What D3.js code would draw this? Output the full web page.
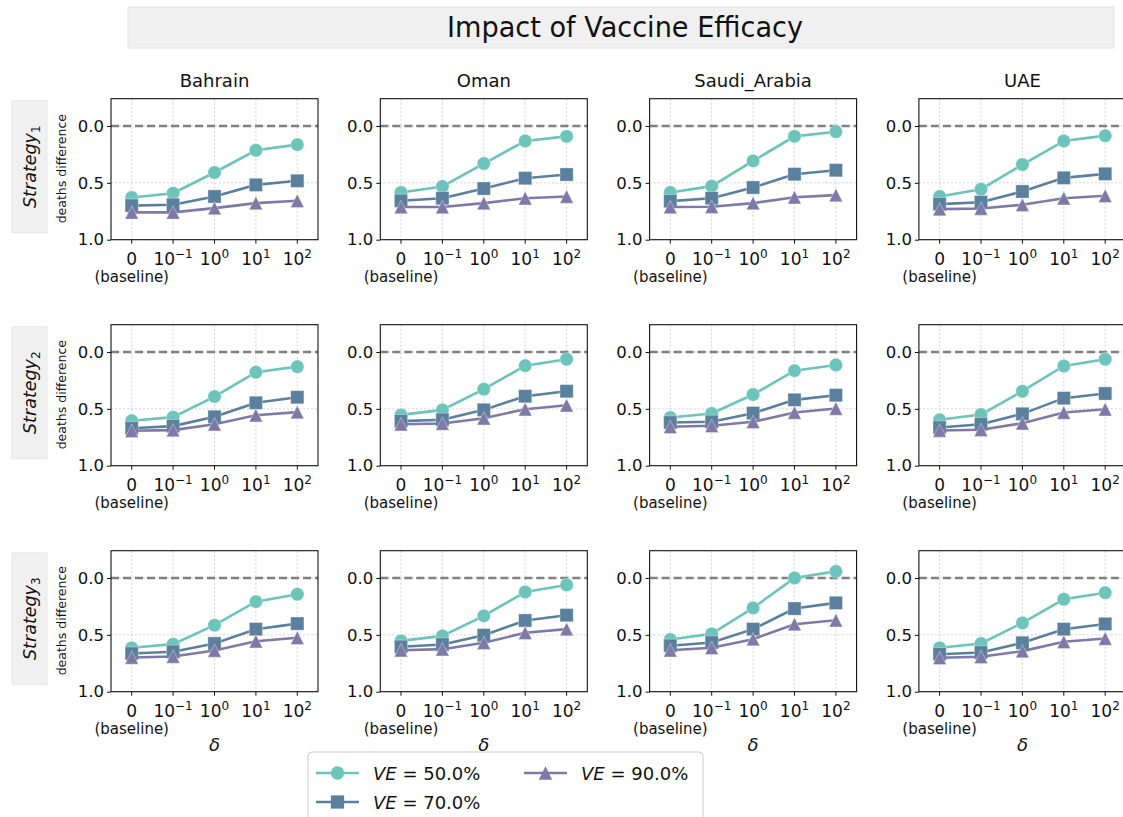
<!DOCTYPE html>
<html>
<head>
<meta charset="utf-8">
<script src="https://cdn.jsdelivr.net/npm/d3@7"></script>
<style>
  html, body { margin: 0; padding: 0; background: #fff; }
  svg { display: block; font-family: "DejaVu Sans", sans-serif; }
</style>
</head>
<body>
<svg id="chart" width="1123" height="817"></svg>
<script>
// Countries (columns) and strategies (rows)
const countries = ["Bahrain", "Oman", "Saudi_Arabia", "UAE"];
const strategies = ["1", "2", "3"];
// delta levels along the x axis
const deltaLabels = ["0", "-1", "0e", "1", "2"];
const deltaTicks = [
  { base: "0", sup: null },
  { base: "10", sup: "\u22121" },
  { base: "10", sup: "0" },
  { base: "10", sup: "1" },
  { base: "10", sup: "2" }
];
const vaccineEfficacy = ["50.0%", "70.0%", "90.0%"];
const yTicks = [0, 0.5, 1.0];

// deaths difference, one array per [strategy][country], in delta order
const ve50 = [
  [[0.629, 0.591, 0.409, 0.213, 0.164], [0.585, 0.532, 0.330, 0.132, 0.091], [0.585, 0.529, 0.307, 0.091, 0.050], [0.620, 0.556, 0.339, 0.132, 0.085]],
  [[0.605, 0.573, 0.392, 0.178, 0.129], [0.553, 0.509, 0.327, 0.120, 0.064], [0.576, 0.541, 0.374, 0.164, 0.114], [0.596, 0.550, 0.345, 0.123, 0.064]],
  [[0.614, 0.582, 0.415, 0.208, 0.143], [0.553, 0.509, 0.333, 0.123, 0.061], [0.541, 0.491, 0.263, 0.000, -0.058], [0.614, 0.576, 0.395, 0.187, 0.129]]
];
const ve70 = [
  [[0.700, 0.693, 0.620, 0.518, 0.482], [0.658, 0.635, 0.550, 0.459, 0.427], [0.661, 0.635, 0.541, 0.424, 0.389], [0.687, 0.670, 0.576, 0.456, 0.421]],
  [[0.670, 0.652, 0.570, 0.447, 0.398], [0.608, 0.596, 0.509, 0.389, 0.345], [0.620, 0.614, 0.538, 0.421, 0.380], [0.664, 0.635, 0.544, 0.406, 0.365]],
  [[0.664, 0.649, 0.576, 0.450, 0.401], [0.605, 0.585, 0.503, 0.374, 0.327], [0.596, 0.567, 0.450, 0.269, 0.219], [0.670, 0.655, 0.570, 0.450, 0.404]]
];
const ve90 = [
  [[0.760, 0.760, 0.722, 0.678, 0.658], [0.713, 0.713, 0.678, 0.635, 0.620], [0.713, 0.710, 0.678, 0.626, 0.608], [0.731, 0.725, 0.693, 0.635, 0.614]],
  [[0.693, 0.687, 0.635, 0.556, 0.529], [0.635, 0.629, 0.582, 0.503, 0.468], [0.658, 0.649, 0.614, 0.532, 0.497], [0.690, 0.684, 0.626, 0.532, 0.503]],
  [[0.699, 0.690, 0.637, 0.556, 0.526], [0.635, 0.626, 0.570, 0.482, 0.450], [0.635, 0.614, 0.538, 0.406, 0.371], [0.702, 0.693, 0.643, 0.561, 0.532]]
];

// Upward triangle as wide as it is tall, centred on the point
const symbolTriUp = {
  draw(context, size) {
    const h = Math.sqrt(size) / 2;
    context.moveTo(0, -h);
    context.lineTo(h, h);
    context.lineTo(-h, h);
    context.closePath();
  }
};

const seriesDefs = [
  { ve: vaccineEfficacy[0], data: ve50, color: "#6cc4bb", symbol: d3.symbolCircle, size: 140 },
  { ve: vaccineEfficacy[1], data: ve70, color: "#5a809e", symbol: d3.symbolSquare, size: 175 },
  { ve: vaccineEfficacy[2], data: ve90, color: "#7f79a8", symbol: symbolTriUp, size: 180 }
];

const svg = d3.select("#chart");

// Layout
const panelW = 207, panelH = 141;
const left0 = 111, colStep = 269.3;
const top0 = 98.7, rowStep = 226;

const x = d3.scalePoint().domain(deltaLabels).range([0, panelW]).padding(0.5);
const y = d3.scaleLinear().domain([-0.24, 1.0]).range([0, panelH]);

// Title banner
svg.append("rect").attr("x", 128).attr("y", 7).attr("width", 986).attr("height", 41)
  .attr("fill", "#f0f0f0").attr("stroke", "#e6e6e6");
svg.append("text").attr("x", 625).attr("y", 37).attr("text-anchor", "middle")
  .attr("font-size", 29).attr("fill", "#111")
  .attr("textLength", 356).attr("lengthAdjust", "spacingAndGlyphs")
  .text("Impact of Vaccine Efficacy");

strategies.forEach((s, r) => {
  const top = top0 + r * rowStep;

  // Row label banner
  svg.append("rect").attr("x", 12).attr("y", top + 2).attr("width", 35).attr("height", 132)
    .attr("fill", "#f0f0f0").attr("stroke", "#e8e8e8");
  const rl = svg.append("text")
    .attr("transform", `translate(36,${top + 68}) rotate(-90)`)
    .attr("text-anchor", "middle").attr("font-size", 17.5).attr("fill", "#111");
  rl.append("tspan").attr("font-style", "italic").text("Strategy");
  rl.append("tspan").attr("font-size", 12).attr("dy", 4).text(s);

  svg.append("text")
    .attr("transform", `translate(66,${top + 70}) rotate(-90)`)
    .attr("text-anchor", "middle").attr("font-size", 12.5).attr("fill", "#111")
    .text("deaths difference");

  countries.forEach((c, ci) => {
    const left = left0 + ci * colStep;
    const g = svg.append("g").attr("transform", `translate(${left},${top})`);

    if (r === 0) {
      svg.append("text").attr("x", left + panelW / 2).attr("y", 87)
        .attr("text-anchor", "middle").attr("font-size", 18).attr("fill", "#111").text(c);
    }

    // grid
    g.append("g").selectAll("line").data(deltaLabels).join("line")
      .attr("x1", d => x(d)).attr("x2", d => x(d)).attr("y1", 0).attr("y2", panelH)
      .attr("stroke", "#c8c8c8").attr("stroke-width", 0.8).attr("stroke-dasharray", "2,2");
    g.append("g").selectAll("line").data(yTicks).join("line")
      .attr("x1", 0).attr("x2", panelW).attr("y1", d => y(d)).attr("y2", d => y(d))
      .attr("stroke", "#c8c8c8").attr("stroke-width", 0.8).attr("stroke-dasharray", "2,2");

    // zero reference line
    g.append("line").attr("x1", 0).attr("x2", panelW).attr("y1", y(0)).attr("y2", y(0))
      .attr("stroke", "#808080").attr("stroke-width", 2.6).attr("stroke-dasharray", "8,4");

    // series
    seriesDefs.forEach(sd => {
      const vals = sd.data[r][ci];
      const pts = vals.map((v, i) => [x(deltaLabels[i]), y(v)]);
      g.append("path").attr("d", d3.line()(pts)).attr("fill", "none")
        .attr("stroke", sd.color).attr("stroke-width", 2.6);
      g.append("g").selectAll("path").data(pts).join("path")
        .attr("transform", d => `translate(${d[0]},${d[1]})`)
        .attr("d", d3.symbol().type(sd.symbol).size(sd.size))
        .attr("fill", sd.color).attr("stroke", "#ffffff").attr("stroke-opacity", 0.35).attr("stroke-width", 1);
    });

    // frame
    g.append("rect").attr("width", panelW).attr("height", panelH)
      .attr("fill", "none").attr("stroke", "#111").attr("stroke-width", 1.1);

    // y axis
    const ya = d3.axisLeft(y).tickValues(yTicks).tickSize(4).tickPadding(3)
      .tickFormat(d => Math.abs(d).toFixed(1));
    const yg = g.append("g").call(ya);
    yg.select(".domain").remove();
    yg.selectAll("text").attr("font-size", 16.5).attr("fill", "#111").attr("font-family", "DejaVu Sans");
    yg.selectAll("line").attr("stroke", "#111");

    // x axis ticks
    const xg = g.append("g").attr("transform", `translate(0,${panelH})`);
    xg.selectAll("line").data(deltaLabels).join("line")
      .attr("x1", d => x(d)).attr("x2", d => x(d)).attr("y1", 0).attr("y2", 4)
      .attr("stroke", "#111");
    deltaTicks.forEach((t, i) => {
      const tx = xg.append("text").attr("x", x(deltaLabels[i])).attr("y", 25)
        .attr("text-anchor", "middle").attr("font-size", 17).attr("fill", "#111");
      tx.append("tspan").text(t.base);
      if (t.sup !== null) {
        tx.append("tspan").attr("font-size", 12).attr("dy", -7).text(t.sup);
      }
    });
    xg.append("text").attr("x", x(deltaLabels[0])).attr("y", 42).attr("text-anchor", "middle")
      .attr("font-size", 15).attr("fill", "#111").text("(baseline)");
    if (r === strategies.length - 1) {
      xg.append("text").attr("x", panelW / 2).attr("y", 59).attr("text-anchor", "middle")
        .attr("font-size", 18).attr("font-style", "italic").attr("fill", "#111").text("\u03b4");
    }
  });
});

// Legend
const lg = svg.append("g").attr("transform", "translate(308,752)");
lg.append("rect").attr("x", 0).attr("y", 0).attr("width", 395).attr("height", 80).attr("rx", 4)
  .attr("fill", "#fff").attr("stroke", "#cccccc");
const legendPos = [[8, 21], [8, 50], [216, 21]];
seriesDefs.forEach((sd, i) => {
  const [lx, ly] = legendPos[i];
  lg.append("line").attr("x1", lx).attr("x2", lx + 43).attr("y1", ly).attr("y2", ly)
    .attr("stroke", sd.color).attr("stroke-width", 2.6);
  lg.append("path").attr("transform", `translate(${lx + 21.5},${ly})`)
    .attr("d", d3.symbol().type(sd.symbol).size(sd.size)).attr("fill", sd.color);
  const t = lg.append("text").attr("x", lx + 57).attr("y", ly + 7).attr("font-size", 18).attr("fill", "#111");
  t.append("tspan").attr("font-style", "italic").text("VE");
  t.append("tspan").text(" = " + sd.ve);
});
</script>
</body>
</html>
